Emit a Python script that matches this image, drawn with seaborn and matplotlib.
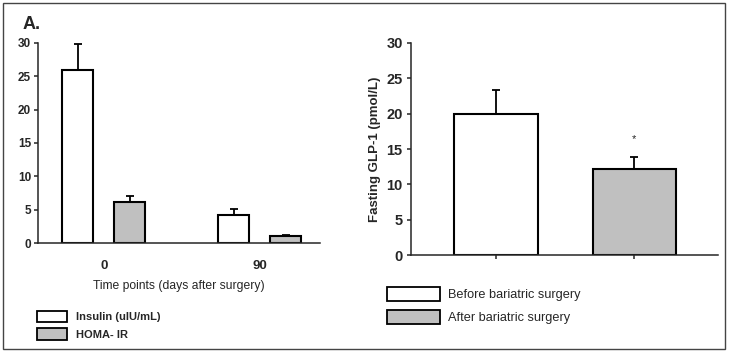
import pandas as pd
import matplotlib
matplotlib.use("Agg")
import matplotlib.pyplot as plt
import seaborn as sns
from matplotlib.patches import Patch, Rectangle

# Panel A: insulin and HOMA-IR by time point
time_points = ["0", "90"]
insulin = [26.0, 4.2]
insulin_err = [3.9, 0.9]
homa = [6.1, 1.1]
homa_err = [0.9, 0.15]
series_a = ["Insulin (uIU/mL)", "HOMA- IR"]

# Panel B: fasting GLP-1
glp_groups = ["Before bariatric surgery", "After bariatric surgery"]
glp1 = [20.0, 12.2]
glp1_err = [3.4, 1.7]

colors = ["white", "#c0c0c0"]

sns.set_style("ticks")
plt.rcParams["font.family"] = ["Liberation Sans", "DejaVu Sans"]

df_a = pd.DataFrame({
    "time": time_points * 2,
    "value": insulin + homa,
    "series": [series_a[0]] * 2 + [series_a[1]] * 2,
})
err_a = {series_a[0]: insulin_err, series_a[1]: homa_err}

df_b = pd.DataFrame({"group": glp_groups, "value": glp1})

fig = plt.figure(figsize=(7.3, 3.53), dpi=100)
ax1 = fig.add_axes([0.052, 0.3116, 0.386, 0.567])
ax2 = fig.add_axes([0.563, 0.2776, 0.4205, 0.6006])

# left panel
sns.barplot(data=df_a, x="time", y="value", hue="series", order=time_points,
            hue_order=series_a, palette=colors, saturation=1, width=0.667,
            gap=0.4, edgecolor="black", linewidth=1.5, errorbar=None,
            legend=False, ax=ax1)
for cont, s in zip(ax1.containers, series_a):
    xs = [p.get_x() + p.get_width() / 2 for p in cont.patches]
    hs = [p.get_height() for p in cont.patches]
    ax1.errorbar(xs, hs, yerr=[[0] * len(hs), err_a[s]], fmt="none",
                 ecolor="black", elinewidth=1.3, capsize=3, capthick=1.3,
                 zorder=1)
ax1.set_ylim(0, 30)
ax1.set_xlim(-0.423, 1.385)
ax1.set_yticks([0, 5, 10, 15, 20, 25, 30])
ax1.tick_params(axis="y", labelsize=8.5, length=3, width=1.1, pad=2)
ax1.tick_params(axis="x", labelsize=9.5, length=0, pad=12)
for lab in ax1.get_xticklabels() + ax1.get_yticklabels():
    lab.set_fontweight("bold")
ax1.set_xlabel("Time points (days after surgery)", fontsize=8.7, labelpad=6)
ax1.set_ylabel("")
sns.despine(ax=ax1)
for sp in ax1.spines.values():
    sp.set_linewidth(1.1)
ax1.text(-0.053, 1.09, "A.", transform=ax1.transAxes, fontsize=13,
         fontweight="bold", ha="left", va="center")

fig.legend(handles=[Patch(facecolor=c, edgecolor="black", linewidth=1.3, label=l)
                    for c, l in zip(colors, series_a)],
           loc="upper left", bbox_to_anchor=(37 / 730, 1 - 311 / 353),
           frameon=False, prop={"weight": "bold", "size": 8},
           handlelength=2.7, handleheight=1.17, labelspacing=0.54,
           handletextpad=0.8, borderpad=0, borderaxespad=0)

# right panel
sns.barplot(data=df_b, x="group", y="value", hue="group", order=glp_groups,
            hue_order=glp_groups, palette=colors, saturation=1, width=0.606,
            edgecolor="black", linewidth=1.5, errorbar=None, legend=False,
            ax=ax2)
for cont, e in zip(ax2.containers, glp1_err):
    p = cont.patches[0]
    ax2.errorbar([p.get_x() + p.get_width() / 2], [p.get_height()],
                 yerr=[[0], [e]], fmt="none", ecolor="black", elinewidth=1.3,
                 capsize=3, capthick=1.3, zorder=1)
last = ax2.containers[1].patches[0]
ax2.text(last.get_x() + last.get_width() / 2, glp1[1] + glp1_err[1] + 2.5, "*",
         ha="center", va="center", fontsize=8)
ax2.set_ylim(0, 30)
ax2.set_xlim(-0.614, 1.603)
ax2.set_yticks([0, 5, 10, 15, 20, 25, 30])
ax2.set_xticks([0, 1])
ax2.set_xticklabels([])
ax2.tick_params(axis="y", labelsize=10.5, length=3, width=1.1, pad=3)
ax2.tick_params(axis="x", length=3, width=1.1)
for lab in ax2.get_yticklabels():
    lab.set_fontweight("bold")
ax2.set_xlabel("")
ax2.set_ylabel("Fasting GLP-1 (pmol/L)", fontsize=9.5, fontweight="bold",
               labelpad=4)
sns.despine(ax=ax2)
for sp in ax2.spines.values():
    sp.set_linewidth(1.1)

fig.legend(handles=[Patch(facecolor=c, edgecolor="black", linewidth=1.3, label=l)
                    for c, l in zip(colors, glp_groups)],
           loc="upper left", bbox_to_anchor=(387 / 730, 1 - 287 / 353),
           frameon=False, fontsize=9.2, handlelength=4.14, handleheight=1.25,
           labelspacing=0.7, handletextpad=0.63, borderpad=0, borderaxespad=0)

# outer frame
fig.patches.append(Rectangle((3 / 730, 4 / 353), 722 / 730, 346 / 353,
                             transform=fig.transFigure, fill=False,
                             edgecolor="#444444", linewidth=1.0))

fig.savefig("out.png", dpi=100)
